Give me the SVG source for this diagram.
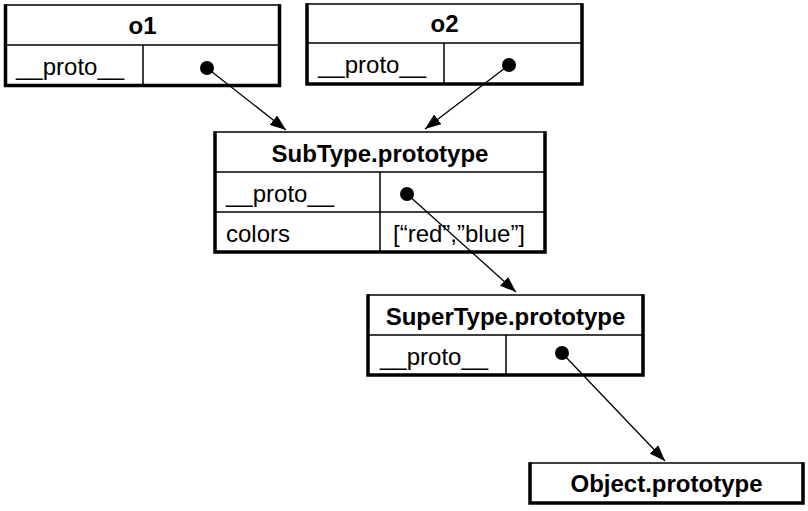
<svg xmlns="http://www.w3.org/2000/svg" width="808" height="511" viewBox="0 0 808 511">
<style>
.box{fill:#fff;stroke:#000;stroke-width:1.5}
.edge{fill:none;stroke:#000;stroke-width:3.5;stroke-linecap:square}
.div{stroke:#000;stroke-width:1.5}
.hd{font-family:"Liberation Sans",Arial,sans-serif;font-weight:bold;font-size:24px;text-anchor:middle;fill:#000}
.tx{font-family:"Liberation Sans",Arial,sans-serif;font-size:24px;fill:#000}
.conn{stroke:#000;stroke-width:1.3;fill:none}
</style>
<defs>
<marker id="ah" viewBox="0 0 16 12" refX="16" refY="6" markerWidth="16" markerHeight="12" markerUnits="userSpaceOnUse" orient="auto">
<path d="M0,0 L16,6 L0,12 Z" fill="#000"/>
</marker>
</defs>
<g id="o1">
<rect class="box" x="5.5" y="5" width="274" height="80.5"/>
<path class="edge" d="M5.5,6 V85.5 H279.5 V6"/>
<line class="div" x1="5.5" y1="45" x2="279.5" y2="45"/>
<line class="div" x1="143" y1="45" x2="143" y2="85.5"/>
<text class="hd" x="142.5" y="34">o1</text>
<text class="tx" x="16" y="75">__proto__</text>
<circle cx="207" cy="68" r="7" fill="#000"/>
</g>
<g id="o2">
<rect class="box" x="307" y="4" width="275" height="80"/>
<path class="edge" d="M307,5 V84 H582 V5"/>
<line class="div" x1="307" y1="43" x2="582" y2="43"/>
<line class="div" x1="444" y1="43" x2="444" y2="84"/>
<text class="hd" x="444.5" y="32">o2</text>
<text class="tx" x="318" y="73">__proto__</text>
<circle cx="509" cy="65" r="7" fill="#000"/>
</g>
<g id="subtype">
<rect class="box" x="215" y="132" width="330" height="120"/>
<path class="edge" d="M215,133 V252 H545 V133"/>
<line class="div" x1="215" y1="172" x2="545" y2="172"/>
<line class="div" x1="215" y1="212" x2="545" y2="212"/>
<line class="div" x1="380" y1="172" x2="380" y2="252"/>
<text class="hd" x="380" y="162">SubType.prototype</text>
<text class="tx" x="226" y="202">__proto__</text>
<text class="tx" x="226" y="242">colors</text>
<text class="tx" x="393" y="242">[“red”,”blue”]</text>
<circle cx="407" cy="194" r="7" fill="#000"/>
</g>
<g id="supertype">
<rect class="box" x="368" y="295" width="275" height="80"/>
<path class="edge" d="M368,296 V375 H643 V296"/>
<line class="div" x1="368" y1="335" x2="643" y2="335"/>
<line class="div" x1="506" y1="335" x2="506" y2="375"/>
<text class="hd" x="505.5" y="325">SuperType.prototype</text>
<text class="tx" x="380" y="365">__proto__</text>
<circle cx="562" cy="353" r="7" fill="#000"/>
</g>
<g id="object">
<rect class="box" x="530" y="463" width="273" height="40"/>
<path class="edge" d="M530,464 V503 H803 V464"/>
<text class="hd" x="666.5" y="492">Object.prototype</text>
</g>
<g id="connectors">
<line class="conn" x1="207" y1="68" x2="286" y2="130" marker-end="url(#ah)"/>
<line class="conn" x1="509" y1="65" x2="425" y2="129" marker-end="url(#ah)"/>
<line class="conn" x1="407" y1="194" x2="516" y2="292" marker-end="url(#ah)"/>
<line class="conn" x1="562" y1="353" x2="665" y2="461" marker-end="url(#ah)"/>
</g>
</svg>
